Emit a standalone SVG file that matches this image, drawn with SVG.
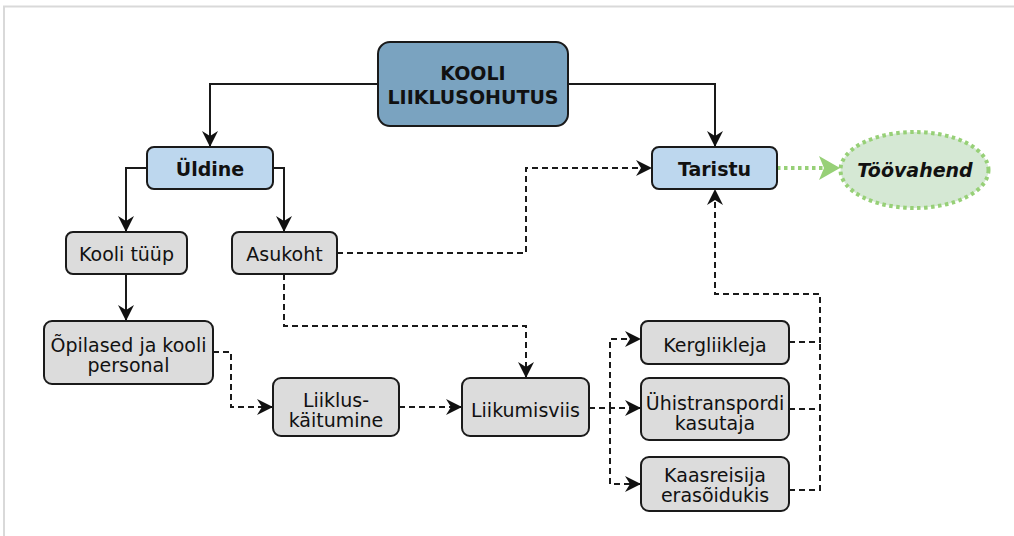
<svg xmlns="http://www.w3.org/2000/svg" width="1014" height="536" viewBox="0 0 1014 536">
  <style>
    .box { stroke: #1a1a1a; stroke-width: 2; }
    .gray { fill: #dcdcdc; }
    .blue { fill: #bdd7ee; }
    .title { fill: #7aa3c0; }
    .t { font-family: "DejaVu Sans", Verdana, sans-serif; font-size: 19px; fill: #111; text-anchor: middle; }
    .b { font-weight: bold; }
    .conn { fill: none; stroke: #1a1a1a; stroke-width: 2; }
    .dash { stroke-dasharray: 6 4; }
  </style>
  <defs>
    <marker id="arr" markerUnits="userSpaceOnUse" markerWidth="18" markerHeight="18" refX="16" refY="8" orient="auto">
      <path d="M0,0 L16,8 L0,16 L5,8 Z" fill="#111"/>
    </marker>
    <marker id="garr" markerUnits="userSpaceOnUse" markerWidth="24" markerHeight="26" refX="21" refY="12" orient="auto">
      <path d="M0,0 L21,12 L0,24 L5,12 Z" fill="#97d077"/>
    </marker>
  </defs>
  <rect width="1014" height="536" fill="#ffffff"/>
  <path d="M4,536 V6.5 H1014" fill="none" stroke="#d9d9d9" stroke-width="2"/>

  <g id="connectors">
    <path class="conn" d="M378,84 H210 V147" marker-end="url(#arr)"/>
    <path class="conn" d="M567,84 H715 V147" marker-end="url(#arr)"/>
    <path class="conn" d="M147,168 H126 V232" marker-end="url(#arr)"/>
    <path class="conn" d="M273,168 H284 V232" marker-end="url(#arr)"/>
    <path class="conn" d="M126,274 V321" marker-end="url(#arr)"/>
    <path class="conn dash" d="M213,352 H231 V407 H273" marker-end="url(#arr)"/>
    <path class="conn dash" d="M337,253 H526 V168 H652" marker-end="url(#arr)"/>
    <path class="conn dash" d="M284,274 V326 H526 V378" marker-end="url(#arr)"/>
    <path class="conn dash" d="M399,407 H462" marker-end="url(#arr)"/>
    <path class="conn dash" d="M589,408 H641" marker-end="url(#arr)"/>
    <path class="conn dash" d="M610,408 V339 H641" marker-end="url(#arr)"/>
    <path class="conn dash" d="M610,408 V484 H641" marker-end="url(#arr)"/>
    <path class="conn dash" d="M789,342 H820 V294 H715 V189" marker-end="url(#arr)"/>
    <path class="conn dash" d="M789,409 H820 V342"/>
    <path class="conn dash" d="M789,490 H820 V409"/>
    <path d="M777,168 H840" fill="none" stroke="#97d077" stroke-width="4" stroke-dasharray="3.5 3.5" marker-end="url(#garr)"/>
  </g>

  <g id="kooli-liiklusohutus">
    <rect class="box title" x="378" y="42" width="190" height="84" rx="12"/>
    <text class="t b" x="473" y="80">KOOLI</text>
    <text class="t b" x="473" y="104">LIIKLUSOHUTUS</text>
  </g>
  <g id="uldine">
    <rect class="box blue" x="147" y="147" width="126" height="42" rx="7"/>
    <text class="t b" x="210" y="176">Üldine</text>
  </g>
  <g id="taristu">
    <rect class="box blue" x="652" y="147" width="125" height="42" rx="7"/>
    <text class="t b" x="714.5" y="176">Taristu</text>
  </g>
  <g id="toovahend">
    <ellipse cx="914.5" cy="170" rx="74" ry="38" fill="#d5e8d4" stroke="#97d077" stroke-width="4" stroke-dasharray="3.5 3.5"/>
    <text class="t b" x="915" y="177" font-style="italic">Töövahend</text>
  </g>
  <g id="kooli-tuup">
    <rect class="box gray" x="66" y="232" width="121" height="42" rx="7"/>
    <text class="t" x="126.5" y="261">Kooli tüüp</text>
  </g>
  <g id="asukoht">
    <rect class="box gray" x="232" y="232" width="105" height="42" rx="7"/>
    <text class="t" x="284.5" y="261">Asukoht</text>
  </g>
  <g id="opilased">
    <rect class="box gray" x="44" y="321" width="169" height="63" rx="8"/>
    <text class="t" x="128.5" y="352">Õpilased ja kooli</text>
    <text class="t" x="128.5" y="372">personal</text>
  </g>
  <g id="liiklus-kaitumine">
    <rect class="box gray" x="273" y="378" width="126" height="58" rx="8"/>
    <text class="t" x="336" y="407">Liiklus-</text>
    <text class="t" x="336" y="427">käitumine</text>
  </g>
  <g id="liikumisviis">
    <rect class="box gray" x="462" y="378" width="127" height="58" rx="8"/>
    <text class="t" x="525.5" y="417">Liikumisviis</text>
  </g>
  <g id="kergliikleja">
    <rect class="box gray" x="641" y="321" width="148" height="43" rx="7"/>
    <text class="t" x="715" y="352">Kergliikleja</text>
  </g>
  <g id="uhistranspordi-kasutaja">
    <rect class="box gray" x="641" y="378" width="148" height="62" rx="8"/>
    <text class="t" x="715" y="410">Ühistranspordi</text>
    <text class="t" x="715" y="430">kasutaja</text>
  </g>
  <g id="kaasreisija">
    <rect class="box gray" x="641" y="457" width="148" height="54" rx="8"/>
    <text class="t" x="715" y="482">Kaasreisija</text>
    <text class="t" x="715" y="502">erasõidukis</text>
  </g>
</svg>
